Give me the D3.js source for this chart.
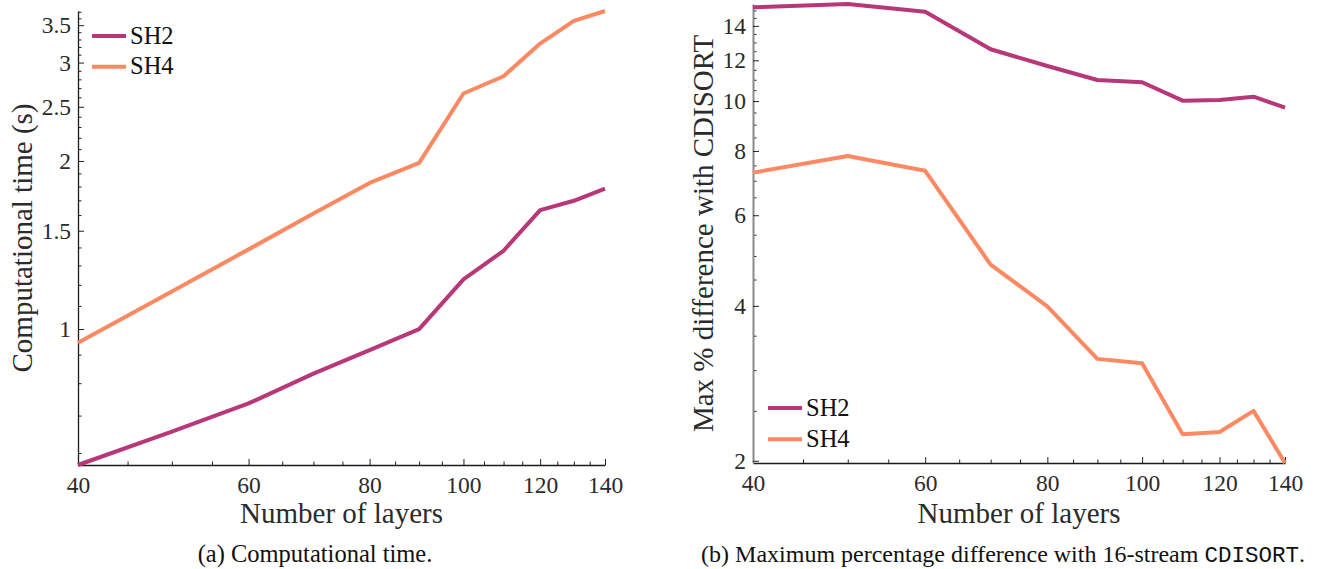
<!DOCTYPE html>
<html>
<head>
<meta charset="utf-8">
<script src="https://cdn.jsdelivr.net/npm/d3@7"></script>
<style>
  html, body { margin: 0; padding: 0; background: #fff; }
  svg { display: block; }
  .tick text { font-family: "Liberation Serif", serif; fill: #2b2b2b; }
</style>
</head>
<body>
<svg id="fig" width="1323" height="569"></svg>
<script>
// Number of atmospheric layers (shared x values)
const layers = [40, 50, 60, 70, 80, 90, 100, 110, 120, 130, 140];

// (a) Computational time in seconds
const timeSH2 = [0.571, 0.655, 0.736, 0.832, 0.917, 1.0, 1.227, 1.381, 1.633, 1.697, 1.785];
const timeSH4 = [0.945, 1.168, 1.389, 1.611, 1.827, 1.984, 2.641, 2.836, 3.245, 3.562, 3.711];

// (b) Maximum % difference against 16-stream CDISORT
const diffSH2 = [15.21, 15.44, 14.92, 12.61, 11.70, 10.99, 10.88, 10.02, 10.05, 10.20, 9.71];
const diffSH4 = [7.26, 7.82, 7.32, 4.81, 3.99, 3.155, 3.095, 2.253, 2.274, 2.50, 1.98];

// Tick labels
const xTicks = [40, 60, 80, 100, 120, 140];
const timeTicks = [1, 1.5, 2, 2.5, 3, 3.5];
const diffTicks = [2, 4, 6, 8, 10, 12, 14];

const seriesNames = ["SH2", "SH4"];
const colors = { SH2: "#b73779", SH4: "#fc8961" };

const svg = d3.select("#fig");
svg.append("rect").attr("width", 1323).attr("height", 569).attr("fill", "#fff");

const serif = "'Liberation Serif', serif";
const tickFont = 23.5;

function panel(opts) {
  const g = svg.append("g");
  const all = opts.series.flatMap(s => s.values);
  const x = d3.scaleLog().domain([layers[0], layers[layers.length - 1]]).range([opts.left, opts.right]);
  const y = d3.scaleLog().domain(d3.extent(all)).range([opts.bottom, opts.top]);

  const xMinor = d3.range(45, 140, 5).filter(v => !xTicks.includes(v));
  const yMinor = opts.minor.filter(v => !opts.yTicks.some(t => Math.abs(t - v) < 1e-9));

  // minor ticks
  g.append("g").attr("transform", `translate(0,${opts.bottom})`)
    .call(d3.axisBottom(x).tickValues(xMinor).tickFormat("").tickSize(-3.5).tickSizeOuter(0))
    .call(a => a.select(".domain").remove())
    .selectAll("line").attr("stroke", "#222");
  g.append("g").attr("transform", `translate(${opts.left},0)`)
    .call(d3.axisLeft(y).tickValues(yMinor).tickFormat("").tickSize(-3.5).tickSizeOuter(0))
    .call(a => a.select(".domain").remove())
    .selectAll("line").attr("stroke", "#222");

  // major ticks + labels
  const xa = g.append("g").attr("transform", `translate(0,${opts.bottom})`)
    .call(d3.axisBottom(x).tickValues(xTicks).tickFormat(d3.format("d")).tickSize(-6).tickSizeOuter(0).tickPadding(11));
  xa.select(".domain").attr("stroke", "#1a1a1a").attr("stroke-width", 1.3);
  xa.selectAll(".tick line").attr("stroke", "#222");
  xa.selectAll(".tick text").attr("font-size", tickFont);

  const ya = g.append("g").attr("transform", `translate(${opts.left},0)`)
    .call(d3.axisLeft(y).tickValues(opts.yTicks).tickFormat(d => String(d)).tickSize(-6).tickSizeOuter(0).tickPadding(7));
  ya.select(".domain").attr("stroke", opts.yAxisColor).attr("stroke-width", opts.yAxisWidth);
  ya.selectAll(".tick line").attr("stroke", "#222");
  ya.selectAll(".tick text").attr("font-size", tickFont);

  // lines
  const line = d3.line().x((d, i) => x(layers[i])).y(d => y(d));
  opts.series.forEach(s => {
    g.append("path").datum(s.values)
      .attr("d", line)
      .attr("fill", "none")
      .attr("stroke", colors[s.name])
      .attr("stroke-width", 4)
      .attr("stroke-linejoin", "round");
  });

  // legend
  opts.series.forEach((s, i) => {
    const ly = opts.legend.y + i * opts.legend.dy;
    g.append("line")
      .attr("x1", opts.legend.x).attr("x2", opts.legend.x + 34)
      .attr("y1", ly).attr("y2", ly)
      .attr("stroke", colors[s.name]).attr("stroke-width", 4);
    g.append("text")
      .attr("x", opts.legend.x + 38).attr("y", ly + 7.5)
      .attr("font-family", serif).attr("font-size", 24.5).attr("fill", "#111")
      .text(s.name);
  });

  // axis titles
  g.append("text")
    .attr("x", (opts.left + opts.right) / 2).attr("y", 523)
    .attr("text-anchor", "middle")
    .attr("font-family", serif).attr("font-size", 29).attr("fill", "#2b2b2b")
    .text("Number of layers");
  g.append("text")
    .attr("transform", `translate(${opts.yTitleX},${(opts.top + opts.bottom) / 2}) rotate(-90)`)
    .attr("text-anchor", "middle")
    .attr("font-family", serif).attr("font-size", 29).attr("fill", "#2b2b2b")
    .text(opts.yTitle);
}

panel({
  left: 78, right: 605, top: 11, bottom: 465,
  series: [{ name: "SH2", values: timeSH2 }, { name: "SH4", values: timeSH4 }],
  yTicks: timeTicks,
  minor: d3.range(6, 38).map(v => v / 10),
  yAxisColor: "#1a1a1a", yAxisWidth: 1.3,
  legend: { x: 92, y: 36, dy: 30.7 },
  yTitle: "Computational time (s)", yTitleX: 32
});

panel({
  left: 753, right: 1285, top: 4, bottom: 463,
  series: [{ name: "SH2", values: diffSH2 }, { name: "SH4", values: diffSH4 }],
  yTicks: diffTicks,
  minor: d3.range(4, 31).map(v => v / 2),
  yAxisColor: "#8a8a8a", yAxisWidth: 2,
  legend: { x: 768, y: 408, dy: 31.3 },
  yTitle: "Max % difference with CDISORT", yTitleX: 713
});

// sub-figure captions
svg.append("text")
  .attr("x", 315).attr("y", 562)
  .attr("text-anchor", "middle")
  .attr("font-family", serif).attr("font-size", 24.5).attr("fill", "#111")
  .text("(a) Computational time.");

const capB = svg.append("text")
  .attr("x", 1003).attr("y", 562)
  .attr("text-anchor", "middle")
  .attr("font-family", serif).attr("font-size", 24).attr("fill", "#111");
capB.append("tspan").text("(b) Maximum percentage difference with 16-stream ");
capB.append("tspan").attr("font-family", "'Liberation Mono', monospace").attr("font-size", 22.5).text("CDISORT");
capB.append("tspan").text(".");
</script>
</body>
</html>
